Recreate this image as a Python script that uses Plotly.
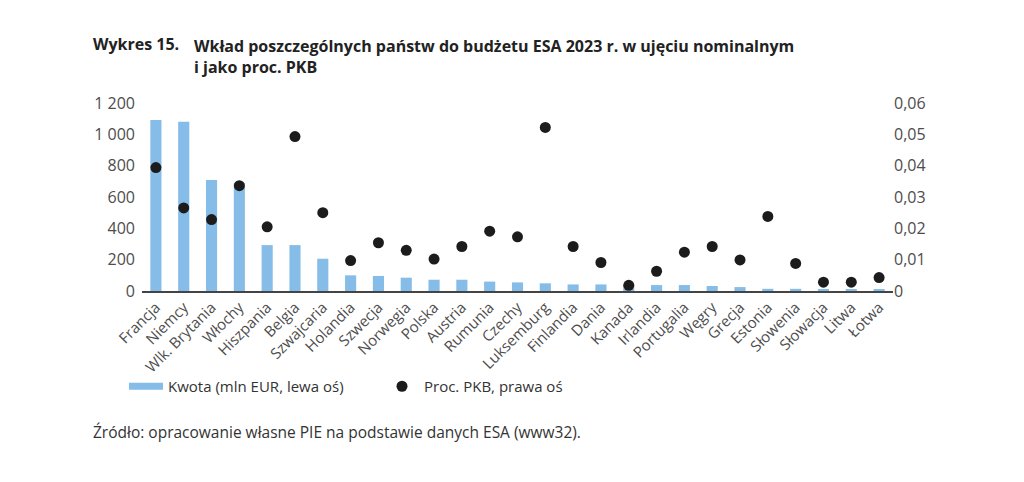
import plotly.graph_objects as go

countries = ["Francja", "Niemcy", "Wlk. Brytania", "Włochy", "Hiszpania", "Belgia",
             "Szwajcaria", "Holandia", "Szwecja", "Norwegia", "Polska", "Austria",
             "Rumunia", "Czechy", "Luksemburg", "Finlandia", "Dania", "Kanada",
             "Irlandia", "Portugalia", "Węgry", "Grecja", "Estonia", "Słowenia",
             "Słowacja", "Litwa", "Łotwa"]
kwota = [1092, 1080, 708, 687, 293, 293, 206, 100, 96, 85, 72, 72, 60, 55, 49,
         42, 42, 38, 38, 38, 32, 25, 14, 14, 8, 8, 8]
pkb = [0.0394, 0.0265, 0.0228, 0.0336, 0.0205, 0.0493, 0.0250, 0.0097, 0.0154,
       0.0130, 0.0102, 0.0142, 0.0191, 0.0173, 0.0522, 0.0142, 0.0091, 0.0018,
       0.0063, 0.0124, 0.0142, 0.0099, 0.0238, 0.0088, 0.0028, 0.0028, 0.0043]
left_ticks = [0, 200, 400, 600, 800, 1000, 1200]
right_ticks = [0, 0.01, 0.02, 0.03, 0.04, 0.05, 0.06]
right_labels = ["0", "0,01", "0,02", "0,03", "0,04", "0,05", "0,06"]

BAR = "#85bde8"
DOT = "#1c1c1c"
TXT = "#4d4d4d"
FONT = "Open Sans"

# page has an 8px body margin; figure coordinates are page - 8
W, H = 1016, 474
ML, MR, MT, MB = 134, 131, 95, 191
PW = W - ML - MR
PH = H - MT - MB


def px(x):
    return (x - ML) / PW


def py(y):
    return (H - MB - y) / PH


fig = go.Figure()
fig.add_trace(go.Bar(x=countries, y=kwota, marker_color=BAR, marker_line_width=0,
                     showlegend=False, yaxis="y"))
fig.add_trace(go.Scatter(x=[None], y=[None], mode="lines",
                         line=dict(color=BAR, width=7),
                         name="Kwota (mln EUR, lewa oś)"))
fig.add_trace(go.Scatter(x=countries, y=pkb, mode="markers", yaxis="y2",
                         marker=dict(color=DOT, size=11),
                         name="Proc. PKB, prawa oś"))

title_font = dict(family=FONT, size=16, color="#222222")

fig.update_layout(
    width=W, height=H,
    margin=dict(l=ML, r=MR, t=MT, b=MB, autoexpand=False),
    paper_bgcolor="white", plot_bgcolor="white",
    separators=", ",
    bargap=0.6,
    font=dict(family=FONT, size=15, color=TXT),
    xaxis=dict(showline=True, linecolor="#444444", linewidth=1.5,
               tickangle=-45, tickfont=dict(size=15, color=TXT),
               showgrid=False, ticks="", range=[-0.5, 26.5], automargin=False),
    yaxis=dict(range=[0, 1200], tickvals=left_ticks, tickformat=",d",
               showgrid=False, zeroline=False, ticks="", automargin=False,
               ticklabelstandoff=6, tickfont=dict(size=16, color=TXT)),
    yaxis2=dict(range=[0, 0.06], overlaying="y", side="right",
                tickvals=right_ticks, ticktext=right_labels, automargin=False,
                showgrid=False, zeroline=False, ticks="",
                ticklabelstandoff=0, tickfont=dict(size=16, color=TXT)),
    legend=dict(orientation="h", xref="paper", yref="paper",
                x=px(116), y=py(362), xanchor="left", yanchor="top",
                font=dict(size=15, color="#333333"),
                itemwidth=34,
                entrywidth=207, entrywidthmode="pixels",
                bgcolor="rgba(0,0,0,0)"),
    annotations=[
        dict(text="<b>Wykres 15.</b>", xref="paper", yref="paper",
             x=px(83), y=py(36), xanchor="left", yanchor="middle",
             showarrow=False, font=title_font),
        dict(text="<b>Wkład poszczególnych państw do budżetu ESA 2023 r. w ujęciu nominalnym"
                  "<br>i jako proc. PKB</b>",
             xref="paper", yref="paper", align="left",
             x=px(184), y=py(25), xanchor="left", yanchor="top",
             showarrow=False, font=title_font),
        dict(text="Źródło: opracowanie własne PIE na podstawie danych ESA (www32).",
             xref="paper", yref="paper", x=px(83), y=py(424),
             xanchor="left", yanchor="middle", showarrow=False,
             font=dict(size=15.5, color="#333333")),
    ],
)

fig.write_html("out.html")
